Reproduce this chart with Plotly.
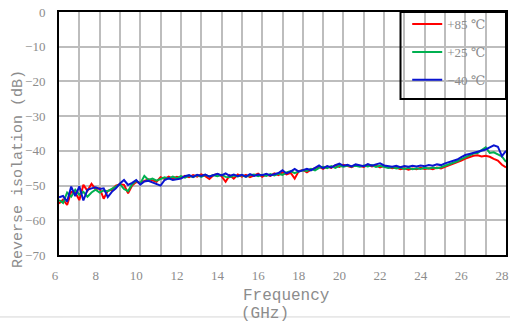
import plotly.graph_objects as go

# Frequency grid (GHz), 0.2 GHz step from 6 to 28
freq = [round(6 + 0.2 * i, 1) for i in range(111)]

red_85 = [
    -55.2, -54.0, -55.6, -51.8, -52.0, -54.2, -49.8, -51.5, -49.5, -51.0,
    -50.8, -53.8, -51.5, -51.2, -50.0, -49.6, -49.8, -52.2, -50.0, -49.0,
    -49.2, -48.6, -48.2, -48.5, -48.9, -47.6, -48.1, -47.4, -48.0, -47.5,
    -47.8, -47.2, -47.6, -47.0, -47.4, -46.8, -47.3, -48.1, -47.0, -46.7,
    -47.3, -48.9, -47.0, -48.0, -46.8, -47.4, -46.9, -47.6, -47.0, -46.6,
    -47.5, -46.8, -47.2, -46.5, -47.0, -46.2, -46.8, -46.3, -48.0, -45.8,
    -45.5, -46.2, -45.4, -45.0, -44.6, -45.2, -44.5, -44.9, -44.2, -44.6,
    -44.0, -44.4, -44.7, -44.1, -44.4, -44.6, -44.0, -44.5, -44.2, -44.8,
    -44.3, -44.7, -45.0, -44.8, -45.3, -45.0, -45.4, -45.1, -45.3, -44.9,
    -45.2, -45.0, -45.3, -44.8, -45.1, -44.6, -44.2, -43.8, -43.4, -42.8,
    -42.2, -41.8, -41.4, -41.3, -41.6, -41.4, -41.7, -42.3, -42.8, -44.0,
    -44.8,
]

green_25 = [
    -54.2, -55.0, -52.0, -53.2, -51.2, -52.6, -51.8, -53.2, -52.0, -51.2,
    -52.0, -51.4, -51.6, -50.9, -50.2, -49.6, -51.0, -51.6, -49.6, -48.6,
    -49.4, -47.2, -48.4, -48.0, -48.6, -48.2, -47.6, -48.0, -47.4, -47.9,
    -47.3, -47.7, -47.1, -47.6, -47.0, -47.5, -46.9, -47.4, -47.0, -47.3,
    -46.9, -47.5, -47.6, -47.1, -47.4, -47.0, -47.5, -47.0, -46.8, -47.3,
    -46.9, -47.2, -46.7, -47.1, -46.6, -46.9, -46.2, -45.8, -46.4, -45.9,
    -45.6, -45.8, -45.2, -45.6, -44.9, -44.6, -45.0, -44.4, -44.9, -44.3,
    -44.6, -44.2, -44.5, -44.3, -44.6, -44.2, -44.5, -44.1, -44.6, -44.3,
    -44.6, -44.9, -44.7, -45.1, -44.8, -45.2, -44.9, -45.3, -45.0, -45.2,
    -44.9, -45.1, -44.8, -45.0, -44.7, -44.3, -43.9, -43.5, -43.0, -42.4,
    -41.8, -41.2, -40.8, -40.6, -39.8, -39.0, -40.6, -40.4, -41.0, -41.6,
    -43.2,
]

blue_m40 = [
    -53.4, -53.0, -54.6, -50.3, -53.0, -50.2, -54.3, -51.2, -50.8, -50.5,
    -51.0, -50.8, -53.3, -51.8, -50.8, -49.4, -48.4, -49.8, -49.2, -48.4,
    -49.7, -48.8, -48.6, -49.0, -49.4, -50.0, -48.4, -47.9, -48.4, -48.2,
    -48.0, -47.3, -47.0, -47.5, -46.9, -47.2, -46.8, -47.4, -46.9, -46.6,
    -47.1, -46.5, -47.2, -46.8, -47.3, -46.9, -47.4, -46.7, -47.2, -46.8,
    -47.0, -46.6, -47.1, -46.8, -46.4, -45.6, -46.5, -46.0, -45.2, -46.0,
    -45.6, -45.2, -45.6, -44.8, -44.2, -45.0, -44.4, -44.8, -44.1, -43.7,
    -44.3, -44.0, -44.5, -43.9, -44.2, -44.4, -43.8, -44.3, -43.9, -43.6,
    -44.2, -44.4, -44.6, -44.3, -44.7, -44.4, -44.6, -44.3, -44.5, -44.2,
    -44.4, -44.1, -44.3, -43.9, -44.1, -43.6, -43.2, -42.8, -42.5, -41.8,
    -41.2, -40.9, -40.6, -40.1, -39.8, -39.6, -39.0, -38.4, -38.8, -41.5,
    -40.0,
]

series_names = ["+85 ℃", "+25 ℃", "−40 ℃"]
series_colors = ["#ff0000", "#00b050", "#0a14d0"]
x_tick_vals = [6, 8, 10, 12, 14, 16, 18, 20, 22, 24, 26, 28]
y_tick_vals = [0, -10, -20, -30, -40, -50, -60, -70]

GRAY_TXT = "#8c8c8c"
SERIF = "Liberation Serif, DejaVu Serif, serif"
MONO = "Liberation Mono, DejaVu Sans Mono, monospace"

fig = go.Figure()
for i, (name, vals, col) in enumerate(zip(series_names, [red_85, green_25, blue_m40], series_colors)):
    fig.add_trace(go.Scatter(
        x=freq, y=vals, mode="lines", name=name,
        line=dict(color=col, width=2),
        legendgroup=f"g{i}",
    ))

fig.update_layout(
    width=510, height=323,
    margin=dict(l=59, r=4, t=12, b=68),
    paper_bgcolor="white", plot_bgcolor="white",
    showlegend=True,
    legend=dict(
        x=0.779, y=1.012, xanchor="left", yanchor="top",
        bgcolor="rgba(0,0,0,0)", borderwidth=0,
        font=dict(family=SERIF, size=13, color=GRAY_TXT),
        tracegroupgap=8, itemwidth=30,
    ),
    xaxis=dict(
        range=[6, 28], tickvals=x_tick_vals,
        showgrid=True, gridcolor="#bdbdbd", gridwidth=1.5,
        minor=dict(dtick=1, showgrid=True, gridcolor="#bdbdbd", gridwidth=1.5),
        showline=True, linecolor="black", linewidth=2, mirror=True,
        ticks="outside", ticklen=7, tickcolor="rgba(0,0,0,0)",
        tickfont=dict(family=SERIF, size=13, color=GRAY_TXT),
        ticklabelshift=-4, ticklabeloverflow="allow",
        zeroline=False, automargin=False,
    ),
    yaxis=dict(
        range=[-70, 0], tickvals=y_tick_vals,
        showgrid=True, gridcolor="#bdbdbd", gridwidth=1.5,
        showline=True, linecolor="black", linewidth=2, mirror=True,
        ticks="outside", ticklen=9, tickcolor="rgba(0,0,0,0)",
        tickfont=dict(family=SERIF, size=13, color=GRAY_TXT),
        zeroline=False, automargin=False,
    ),
)

# legend frame
fig.add_shape(type="rect", xref="paper", yref="paper",
              x0=0.764, x1=1.0, y0=0.642, y1=1.0,
              line=dict(color="black", width=2), fillcolor="rgba(0,0,0,0)")
# light separator line near the bottom of the picture
fig.add_shape(type="line", xref="paper", yref="paper",
              x0=-0.135, x1=1.01, y0=-0.255, y1=-0.255,
              line=dict(color="#d6d6d6", width=1))

fig.add_annotation(text="Reverse isolation (dB)", textangle=-90,
                   xref="paper", yref="paper", x=-0.092, y=0.353,
                   xanchor="center", yanchor="middle", showarrow=False,
                   font=dict(family=MONO, size=15, color=GRAY_TXT))
fig.add_annotation(text="Frequency", xref="paper", yref="paper",
                   x=0.51, y=-0.168, xanchor="center", yanchor="middle",
                   showarrow=False, font=dict(family=MONO, size=16, color=GRAY_TXT))
fig.add_annotation(text="(GHz)", xref="paper", yref="paper",
                   x=0.461, y=-0.243, xanchor="center", yanchor="middle",
                   showarrow=False, font=dict(family=MONO, size=16, color=GRAY_TXT))

fig.write_html(
    "out.html",
    config={"displayModeBar": False},
    post_script="document.body.style.margin='0';document.body.style.overflow='hidden';",
)
